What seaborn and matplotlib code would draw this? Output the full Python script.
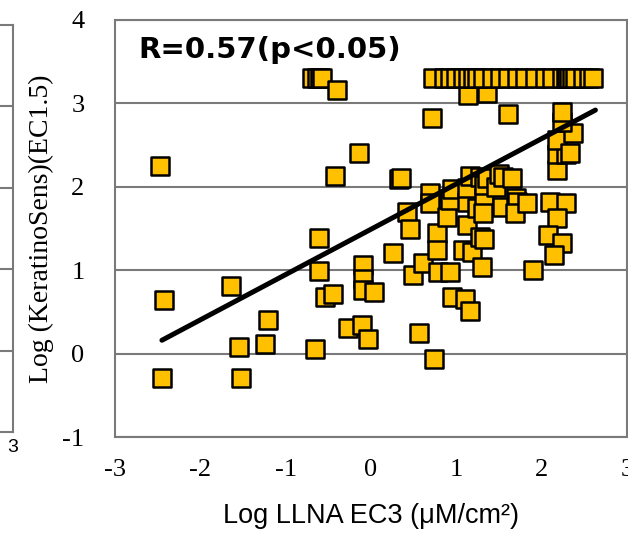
import matplotlib
matplotlib.use("Agg")
import matplotlib.pyplot as plt
import seaborn as sns
import pandas as pd

# ---- data ----
llna_x = [-2.47, -2.43, -2.45, -1.64, -1.21, -1.55, -1.24, -1.52, -0.66, -0.61,
          -0.61, -0.54, -0.44, -0.42, -0.14, -0.27, -0.10, -0.04, -0.09, -0.09,
          -0.09, 0.04, 0.56, 0.74, 0.26, 0.33, 0.35, 0.42, 0.46, 0.49,
          0.61, 0.69, 0.69, 0.72, 0.77, 0.77, 0.79, 0.89, 0.93, 0.95,
          0.93, 0.95, 1.10, 1.16, 1.08, 1.18, 1.12, 1.12, 1.12, 1.16,
          1.28, 1.24, 1.28, 1.30, 1.33, 1.32, 1.31, 1.33, 1.36, 1.14,
          1.36, 1.47, 1.50, 1.55, 1.53, 1.61, 1.65, 1.70, 1.71, 1.69,
          1.83, 1.90, 2.10, 2.28, 2.18, 2.08, 2.24, 2.14, 2.18, 2.18,
          2.28, 2.18, 2.37, 2.24, 2.24, 2.33,
          -0.69, -0.63, -0.60, -0.57, -0.40,
          0.73, 0.85, 0.93, 1.00, 1.08, 1.14, 1.19, 1.24, 1.31, 1.42,
          1.51, 1.61, 1.71, 1.81, 1.92, 2.04, 2.12, 2.24, 2.28, 2.30,
          2.32, 2.35, 2.39, 2.49, 2.55, 2.60]
ks_y = [2.25, 0.64, -0.29, 0.81, 0.40, 0.08, 0.12, -0.29, 0.05, 1.39,
        0.99, 0.68, 0.72, 2.13, 2.41, 0.31, 0.34, 0.17, 1.06, 0.90,
        0.76, 0.74, 0.25, -0.07, 1.21, 2.09, 2.11, 1.70, 1.50, 0.94,
        1.09, 1.93, 1.81, 2.83, 1.45, 1.24, 0.98, 1.64, 1.84, 1.97,
        0.98, 0.68, 0.65, 0.51, 1.24, 1.22, 1.54, 1.82, 1.99, 2.13,
        2.12, 1.75, 1.40, 1.04, 1.87, 2.02, 1.69, 1.37, 2.11, 3.10,
        3.12, 2.00, 2.15, 2.12, 1.76, 2.87, 2.10, 1.87, 1.82, 1.68,
        1.80, 1.00, 1.82, 1.80, 1.62, 1.42, 1.33, 1.18, 2.20, 2.39,
        2.39, 2.56, 2.64, 2.78, 2.90, 2.40,
        3.30, 3.30, 3.30, 3.30, 3.16,
        3.30, 3.30, 3.30, 3.30, 3.30, 3.30, 3.30, 3.30, 3.30, 3.30,
        3.30, 3.30, 3.30, 3.30, 3.30, 3.30, 3.30, 3.30, 3.30, 3.30,
        3.30, 3.30, 3.30, 3.30, 3.30, 3.30]
fit_x = [-2.45, 2.63]
fit_y = [0.16, 2.92]
x_ticks = [-3, -2, -1, 0, 1, 2, 3]
y_ticks = [-1, 0, 1, 2, 3, 4]
grid_levels = [0, 1, 2, 3]
annotation = "R=0.57(p<0.05)"
x_label = "Log LLNA EC3 (μM/cm²)"
y_label = "Log (KeratinoSens)(EC1.5)"

sns.set_theme(style="white")
plt.rcParams['font.family'] = ['Liberation Serif', 'DejaVu Sans']
plt.rcParams['text.color'] = 'black'
plt.rcParams['axes.labelcolor'] = 'black'
plt.rcParams['xtick.labelcolor'] = 'black'
plt.rcParams['ytick.labelcolor'] = 'black'

W, H = 628, 533
fig = plt.figure(figsize=(W / 100, H / 100), dpi=100)

spine_col = '#7a7a7a'
grid_col = '#7a7a7a'

# ---- partial left panel (cut off by the crop) ----
ax0 = fig.add_axes([-0.5, 1 - 432 / H, 0.5 + 13 / W, (432 - 25) / H])
ax0.set_xlim(-3, 3)
ax0.set_ylim(-1, 4)
ax0.set_yticks(grid_levels)
ax0.set_yticklabels([])
ax0.yaxis.grid(True, color=grid_col, linewidth=1.5)
ax0.set_xticks([3])
ax0.set_xticklabels(['3'], family='Liberation Sans', fontsize=14)
ax0.tick_params(axis='x', length=0, pad=5)
ax0.tick_params(axis='y', length=0)
for s in ax0.spines.values():
    s.set_color(spine_col)
    s.set_linewidth(1.5)

# ---- main panel ----
L, R, T, B = 115, 627, 20, 437
ax = fig.add_axes([L / W, 1 - B / H, (R - L) / W, (B - T) / H])
df = pd.DataFrame({'x': llna_x, 'y': ks_y})
sns.scatterplot(data=df, x='x', y='y', marker='s', s=180, color='#FFC000',
                edgecolor='black', linewidth=1.8, ax=ax, zorder=3)
sns.lineplot(x=fit_x, y=fit_y, color='black', linewidth=3.6, ax=ax, zorder=4)

ax.set_xlim(-3, 3)
ax.set_ylim(-1, 4)
ax.set_xticks(x_ticks)
ax.set_yticks(y_ticks)
ax.set_xticklabels([str(t) for t in x_ticks], fontsize=19)
ax.set_yticklabels([str(t) for t in y_ticks], fontsize=19)
ax.yaxis.grid(True, color=grid_col, linewidth=1.5)
ax.xaxis.grid(False)
ax.set_axisbelow(True)
ax.tick_params(axis='x', direction='in', length=7, width=1.2, color=spine_col, pad=16)
ax.tick_params(axis='y', direction='in', length=6, width=1.2, color=spine_col, pad=22)
for s in ax.spines.values():
    s.set_color(spine_col)
    s.set_linewidth(1.5)

ax.set_xlabel(x_label, family='Liberation Sans', fontsize=19.5, labelpad=16)
ax.set_ylabel(y_label, fontsize=20, labelpad=6)

ax.text(0.045, 0.928, annotation, transform=ax.transAxes, ha='left', va='center',
        family='DejaVu Sans', fontweight='bold', fontsize=21, color='black', zorder=5)

fig.savefig('out.png', dpi=100)
